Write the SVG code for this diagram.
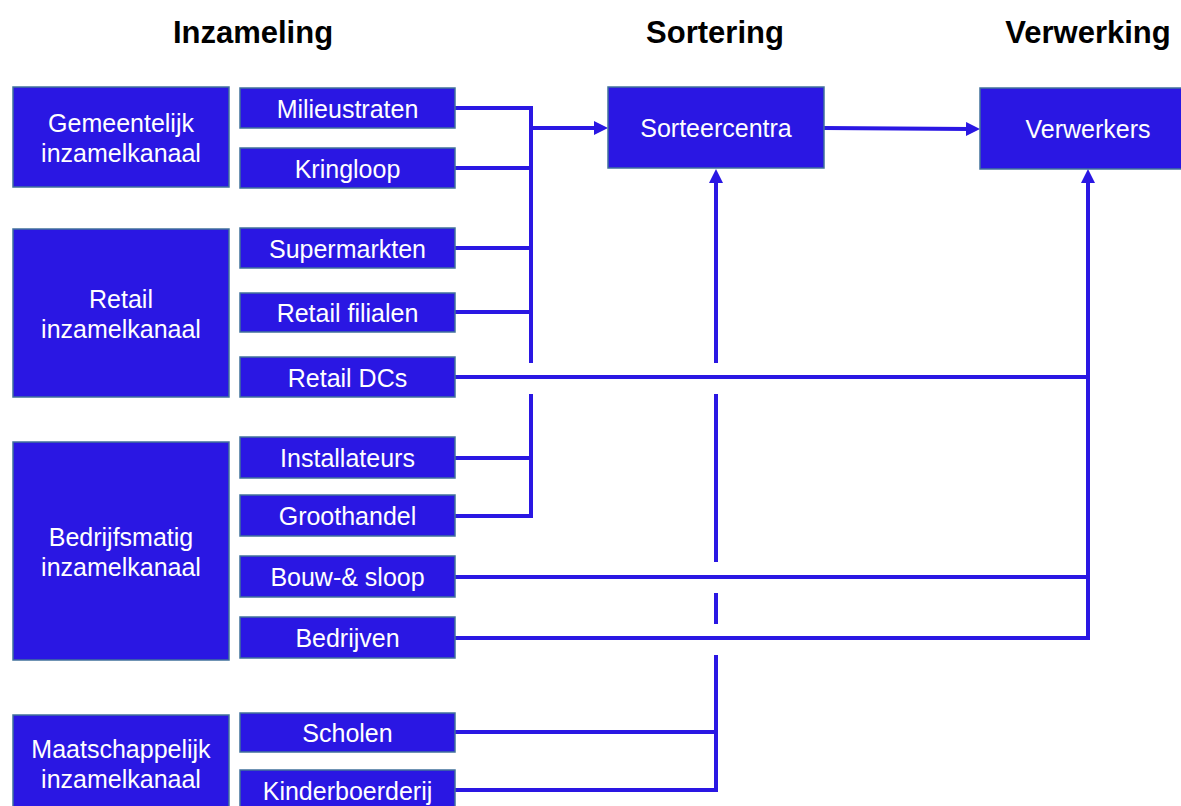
<svg xmlns="http://www.w3.org/2000/svg" width="1181" height="806" viewBox="0 0 1181 806">
<style>
.box{fill:#2A17E3;stroke:#41719C;stroke-width:1.5}
.lbl{fill:#FFFFFF;font-family:"Liberation Sans",Arial,sans-serif;font-size:25px;text-anchor:middle}
.hdr{fill:#000000;font-family:"Liberation Sans",Arial,sans-serif;font-size:31px;font-weight:bold;text-anchor:middle}
.ln{fill:none;stroke:#2A17E3;stroke-width:4;stroke-linejoin:miter}
</style>
<defs>
<marker id="ah" markerUnits="userSpaceOnUse" markerWidth="14" markerHeight="14" refX="4" refY="7" orient="auto">
<path d="M0,0 L14,7 L0,14 z" fill="#2A17E3"/>
</marker>
</defs>
<rect width="1181" height="806" fill="#FFFFFF"/>
<g id="headers">
<text class="hdr" x="253" y="43">Inzameling</text>
<text class="hdr" x="715" y="43">Sortering</text>
<text class="hdr" x="1088" y="43">Verwerking</text>
</g>
<g id="connectors">
<path class="ln" d="M455,108 H531 V363 M531,394 V516 H455 M455,168 H531 M455,248 H531 M455,312 H531 M455,458 H531"/>
<path class="ln" d="M531,128 H598" marker-end="url(#ah)"/>
<path class="ln" d="M824,128 L970,129" marker-end="url(#ah)"/>
<path class="ln" d="M455,732 H716 M455,790 H716 V655 M716,624 V593 M716,562 V394"/>
<path class="ln" d="M716,363 V179" marker-end="url(#ah)"/>
<path class="ln" d="M455,377 H1088 M455,577 H1088"/>
<path class="ln" d="M455,638 H1088 V179" marker-end="url(#ah)"/>
</g>
<g id="gemeentelijk"><rect class="box" x="13" y="87" width="216" height="100"/><text class="lbl" x="121" y="131.5">Gemeentelijk</text><text class="lbl" x="121" y="161.5">inzamelkanaal</text></g>
<g id="retail"><rect class="box" x="13" y="229" width="216" height="168"/><text class="lbl" x="121" y="307.5">Retail</text><text class="lbl" x="121" y="337.5">inzamelkanaal</text></g>
<g id="bedrijfsmatig"><rect class="box" x="13" y="442" width="216" height="218"/><text class="lbl" x="121" y="545.5">Bedrijfsmatig</text><text class="lbl" x="121" y="575.5">inzamelkanaal</text></g>
<g id="maatschappelijk"><rect class="box" x="13" y="715" width="216" height="97"/><text class="lbl" x="121" y="757.5">Maatschappelijk</text><text class="lbl" x="121" y="787.5">inzamelkanaal</text></g>
<g id="milieustraten"><rect class="box" x="240" y="88" width="215" height="40"/><text class="lbl" x="347.5" y="117.5">Milieustraten</text></g>
<g id="kringloop"><rect class="box" x="240" y="148" width="215" height="40"/><text class="lbl" x="347.5" y="177.5">Kringloop</text></g>
<g id="supermarkten"><rect class="box" x="240" y="228" width="215" height="40"/><text class="lbl" x="347.5" y="257.5">Supermarkten</text></g>
<g id="retail-filialen"><rect class="box" x="240" y="293" width="215" height="39"/><text class="lbl" x="347.5" y="322">Retail filialen</text></g>
<g id="retail-dcs"><rect class="box" x="240" y="357" width="215" height="40"/><text class="lbl" x="347.5" y="386.5">Retail DCs</text></g>
<g id="installateurs"><rect class="box" x="240" y="437" width="215" height="41"/><text class="lbl" x="347.5" y="467">Installateurs</text></g>
<g id="groothandel"><rect class="box" x="240" y="495" width="215" height="41"/><text class="lbl" x="347.5" y="525">Groothandel</text></g>
<g id="bouw-sloop"><rect class="box" x="240" y="556" width="215" height="41"/><text class="lbl" x="347.5" y="586">Bouw-&amp; sloop</text></g>
<g id="bedrijven"><rect class="box" x="240" y="617" width="215" height="41"/><text class="lbl" x="347.5" y="647">Bedrijven</text></g>
<g id="scholen"><rect class="box" x="240" y="713" width="215" height="39"/><text class="lbl" x="347.5" y="742">Scholen</text></g>
<g id="kinderboerderij"><rect class="box" x="240" y="770" width="215" height="40"/><text class="lbl" x="347.5" y="799.5">Kinderboerderij</text></g>
<g id="sorteercentra"><rect class="box" x="608" y="87" width="216" height="81"/><text class="lbl" x="716" y="136.5">Sorteercentra</text></g>
<g id="verwerkers"><rect class="box" x="980" y="88" width="215" height="81"/><text class="lbl" x="1088" y="137.5">Verwerkers</text></g>
</svg>
